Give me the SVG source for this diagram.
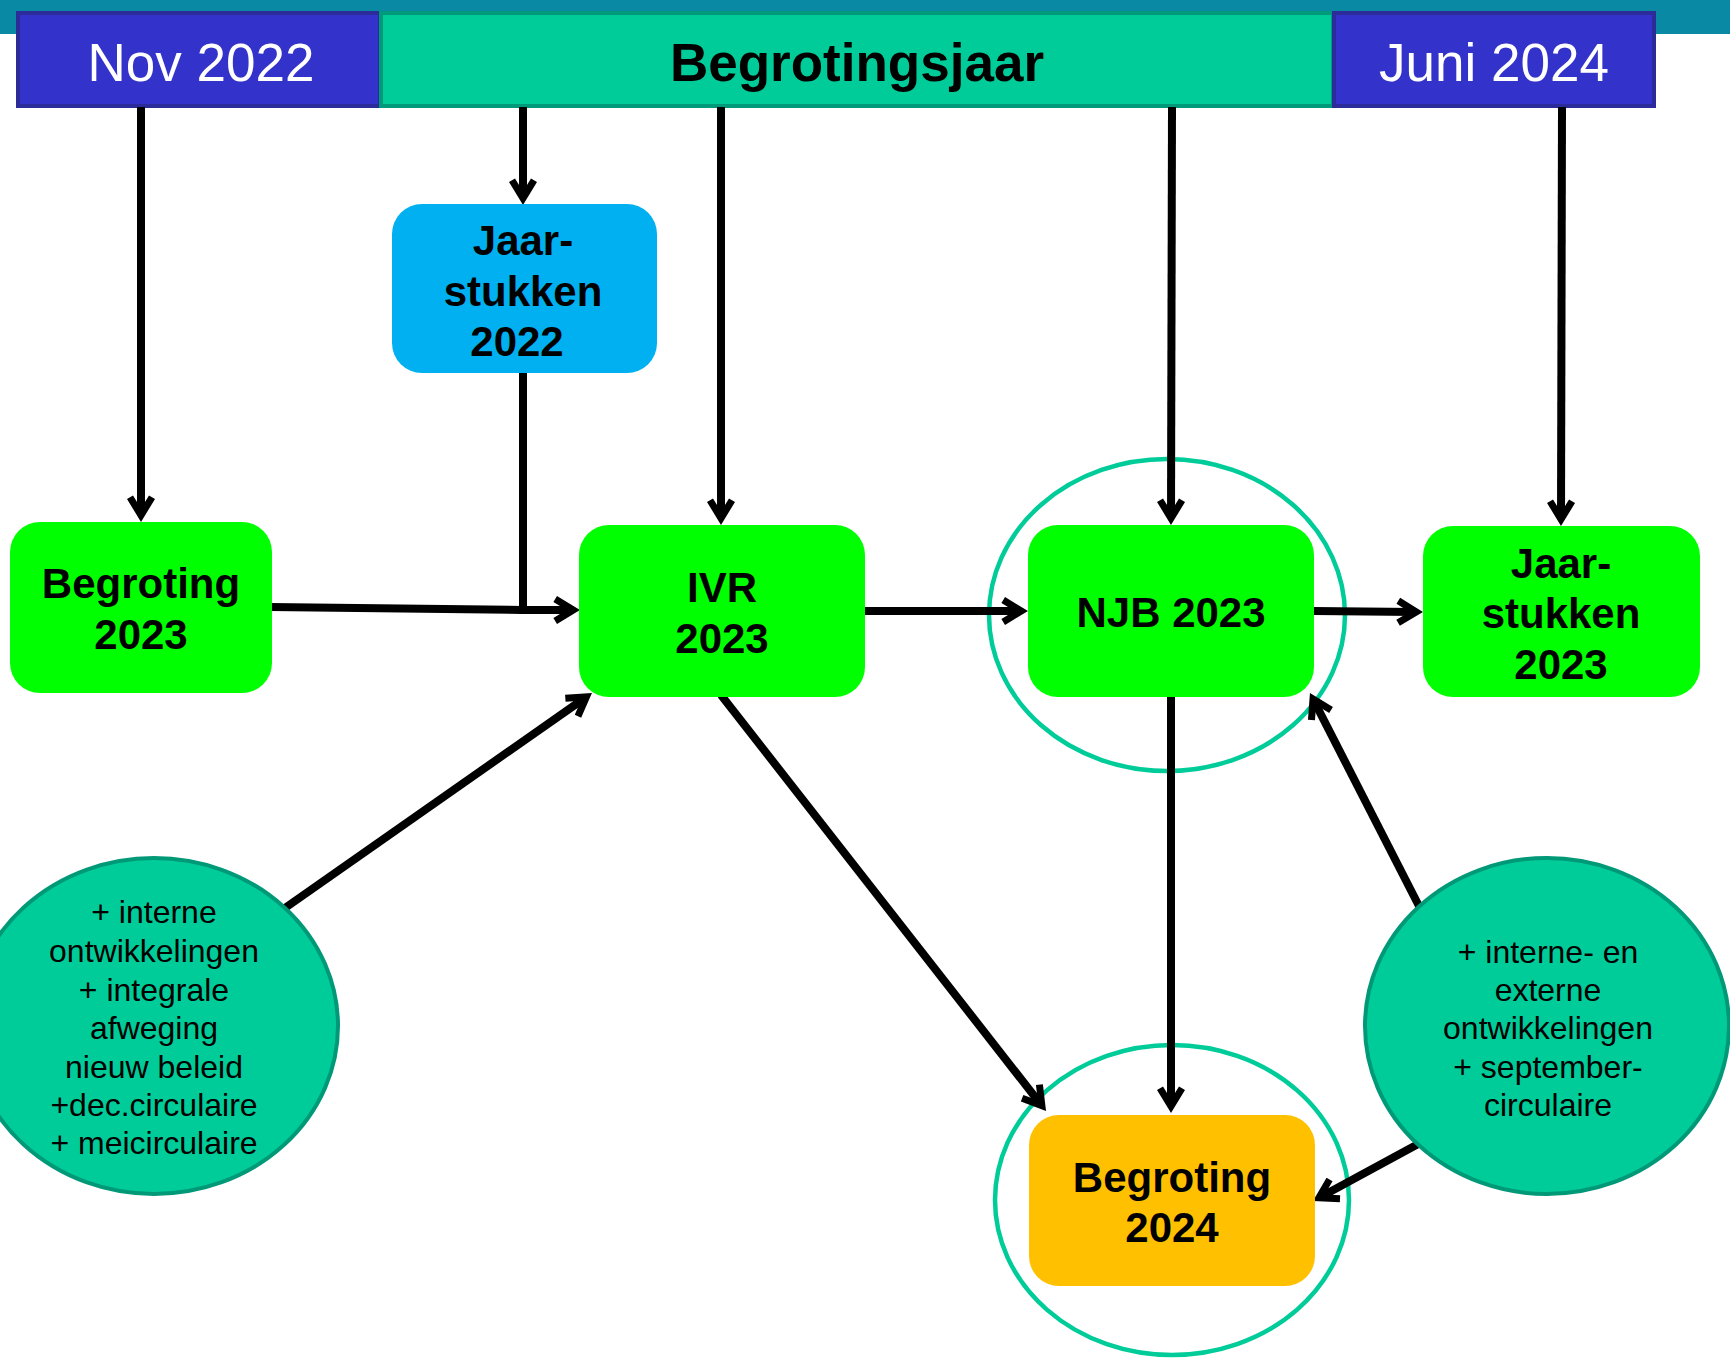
<svg xmlns="http://www.w3.org/2000/svg" width="1730" height="1361" viewBox="0 0 1730 1361">
<style>
.hdr{font-family:"Liberation Sans",Arial,sans-serif;font-size:53px;text-anchor:middle}
.box{font-family:"Liberation Sans",Arial,sans-serif;font-size:42px;font-weight:bold;text-anchor:middle;fill:#000}
.note{font-family:"Liberation Sans",Arial,sans-serif;font-size:32px;text-anchor:middle;fill:#000}
.conn{stroke:#000;stroke-width:8;fill:none}
.green{fill:#00FF00}
.oval{fill:#00CC99;stroke:#009977;stroke-width:4}
.ring{fill:none;stroke:#00CC99;stroke-width:4.5}
</style>
<defs>
<marker id="ah" markerUnits="userSpaceOnUse" markerWidth="40" markerHeight="40" viewBox="-20 -20 40 40" refX="0" refY="0" orient="auto" overflow="visible">
<polygon points="8,0 -15,-14 -18.6,-8 -5.5,0 -18.6,8 -15,14" fill="#000"/>
</marker>
</defs>
<rect x="0" y="0" width="1730" height="1361" fill="#fff"/>
<rect x="0" y="0" width="1730" height="34" fill="#0A89A5"/>

<g id="nov2022">
<rect x="18" y="13" width="362" height="93" fill="#3333CC" stroke="#2B2B99" stroke-width="4"/>
<text class="hdr" x="201" y="81" fill="#fff">Nov 2022</text>
</g>
<g id="begrotingsjaar">
<rect x="381" y="13" width="952" height="93" fill="#00CC99" stroke="#00997A" stroke-width="4"/>
<text class="hdr" x="857" y="81" font-weight="bold" fill="#000">Begrotingsjaar</text>
</g>
<g id="juni2024">
<rect x="1334" y="13" width="320" height="93" fill="#3333CC" stroke="#2B2B99" stroke-width="4"/>
<text class="hdr" x="1494" y="81" fill="#fff">Juni 2024</text>
</g>

<g id="ellipses">
<ellipse class="ring" cx="1167" cy="615" rx="178" ry="156"/>
<ellipse class="ring" cx="1172" cy="1200" rx="177" ry="155"/>
</g>

<g id="connectors">
<line class="conn" x1="141" y1="107" x2="141" y2="514" marker-end="url(#ah)"/>
<line class="conn" x1="523" y1="107" x2="523" y2="197" marker-end="url(#ah)"/>
<line class="conn" x1="721" y1="107" x2="721" y2="517" marker-end="url(#ah)"/>
<line class="conn" x1="1172" y1="107" x2="1171" y2="517" marker-end="url(#ah)"/>
<line class="conn" x1="1562" y1="107" x2="1561" y2="518" marker-end="url(#ah)"/>
<polyline class="conn" points="523,373 523,610 572,610" marker-end="url(#ah)"/>
<line class="conn" x1="270" y1="607" x2="523" y2="610"/>
<line class="conn" x1="865" y1="611" x2="1020" y2="611" marker-end="url(#ah)"/>
<line class="conn" x1="1314" y1="611" x2="1415" y2="612" marker-end="url(#ah)"/>
<line class="conn" x1="1171" y1="697" x2="1171" y2="1105" marker-end="url(#ah)"/>
<line class="conn" x1="721" y1="695" x2="1041.1" y2="1104.7" marker-end="url(#ah)"/>
<line class="conn" x1="285" y1="908" x2="585.4" y2="697.6" marker-end="url(#ah)"/>
<line class="conn" x1="1420" y1="908" x2="1313.6" y2="700.1" marker-end="url(#ah)"/>
<line class="conn" x1="1420" y1="1143" x2="1320" y2="1197.2" marker-end="url(#ah)"/>
</g>

<g id="jaarstukken2022">
<rect x="392" y="204" width="265" height="169" rx="30" fill="#00B0F0"/>
<text class="box" x="523" y="255">Jaar-</text>
<text class="box" x="523" y="306">stukken</text>
<text class="box" x="517" y="356">2022</text>
</g>
<g id="begroting2023">
<rect class="green" x="10" y="522" width="262" height="171" rx="30"/>
<text class="box" x="141" y="598">Begroting</text>
<text class="box" x="141" y="649">2023</text>
</g>
<g id="ivr2023">
<rect class="green" x="579" y="525" width="286" height="172" rx="30"/>
<text class="box" x="722" y="602">IVR</text>
<text class="box" x="722" y="653">2023</text>
</g>
<g id="njb2023">
<rect class="green" x="1028" y="525" width="286" height="172" rx="30"/>
<text class="box" x="1171" y="627">NJB 2023</text>
</g>
<g id="jaarstukken2023">
<rect class="green" x="1423" y="526" width="277" height="171" rx="30"/>
<text class="box" x="1561" y="578">Jaar-</text>
<text class="box" x="1561" y="628">stukken</text>
<text class="box" x="1561" y="679">2023</text>
</g>
<g id="begroting2024">
<rect x="1029" y="1115" width="286" height="171" rx="30" fill="#FFC000"/>
<text class="box" x="1172" y="1192">Begroting</text>
<text class="box" x="1172" y="1242">2024</text>
</g>

<g id="note-left">
<ellipse class="oval" cx="154" cy="1026" rx="184" ry="168"/>
<text class="note" x="154" y="923">+ interne</text>
<text class="note" x="154" y="962">ontwikkelingen</text>
<text class="note" x="154" y="1001">+ integrale</text>
<text class="note" x="154" y="1039">afweging</text>
<text class="note" x="154" y="1078">nieuw beleid</text>
<text class="note" x="154" y="1116">+dec.circulaire</text>
<text class="note" x="154" y="1154">+ meicirculaire</text>
</g>
<g id="note-right">
<ellipse class="oval" cx="1547" cy="1026" rx="182" ry="168"/>
<text class="note" x="1548" y="963">+ interne- en</text>
<text class="note" x="1548" y="1001">externe</text>
<text class="note" x="1548" y="1039">ontwikkelingen</text>
<text class="note" x="1548" y="1078">+ september-</text>
<text class="note" x="1548" y="1116">circulaire</text>
</g>
</svg>
